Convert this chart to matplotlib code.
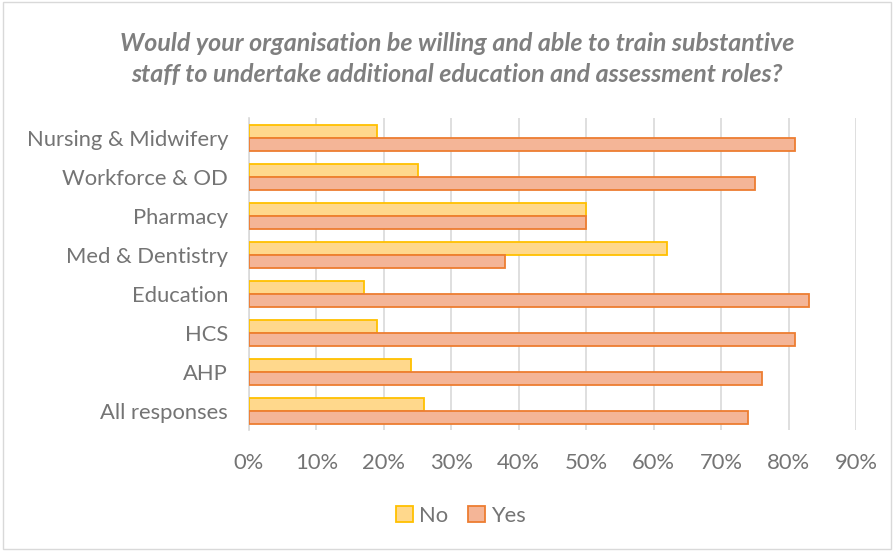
import matplotlib
matplotlib.use("Agg")
import matplotlib.pyplot as plt
from matplotlib.patches import Rectangle
from matplotlib.ticker import PercentFormatter
import numpy as np

categories = ["Nursing & Midwifery", "Workforce & OD", "Pharmacy", "Med & Dentistry",
              "Education", "HCS", "AHP", "All responses"]
no_values = [0.19, 0.25, 0.50, 0.62, 0.17, 0.19, 0.24, 0.26]
yes_values = [0.81, 0.75, 0.50, 0.38, 0.83, 0.81, 0.76, 0.74]
x_ticks = [0.0, 0.1, 0.2, 0.3, 0.4, 0.5, 0.6, 0.7, 0.8, 0.9]

plt.rcParams["font.family"] = ["Lato", "DejaVu Sans"]
text_grey = "#747474"

fig = plt.figure(figsize=(8.94, 5.51), dpi=100)
ax = fig.add_axes([0.2785, 0.2187, 0.679, 0.5663])

y = np.arange(len(categories))
h = 0.33
ax.barh(y - h / 2, no_values, height=h, color="#FFD88C", edgecolor="#FFC000",
        linewidth=1.3, label="No", zorder=3)
ax.barh(y + h / 2, yes_values, height=h, color="#F4B597", edgecolor="#ED7D31",
        linewidth=1.3, label="Yes", zorder=3)

ax.set_ylim(len(categories) - 0.5, -0.5)
ax.set_xlim(0, 0.9)
ax.set_xticks(x_ticks)
ax.xaxis.set_major_formatter(PercentFormatter(1.0, decimals=0))
ax.set_yticks(y)
ax.set_yticklabels(categories)
ax.tick_params(axis="both", length=0, labelsize=15.8, colors=text_grey)
ax.tick_params(axis="x", pad=16)
ax.tick_params(axis="y", pad=15)
ax.grid(axis="x", color="#D9D9D9", linewidth=1.2, zorder=0)
for s in ["top", "right", "bottom"]:
    ax.spines[s].set_visible(False)
ax.spines["left"].set_color("#D9D9D9")
ax.spines["left"].set_linewidth(1.2)

fig.text(0.511, 0.893, "Would your organisation be willing and able to train substantive\n"
         "staff to undertake additional education and assessment roles?",
         ha="center", va="center", fontsize=18, fontstyle="italic", fontweight="bold",
         color="#7F7F7F", linespacing=1.42)

leg = fig.legend(loc="center", bbox_to_anchor=(0.516, 0.064), ncol=2, frameon=False,
                 fontsize=15.8, handlelength=0.75, handleheight=0.75, handletextpad=0.3,
                 columnspacing=0.9)
for t in leg.get_texts():
    t.set_color(text_grey)

fig.patches.append(Rectangle((0.003, 0.004), 0.994, 0.992, transform=fig.transFigure,
                             fill=False, edgecolor="#D9D9D9", linewidth=1.0))

fig.savefig("out.png", dpi=100)
